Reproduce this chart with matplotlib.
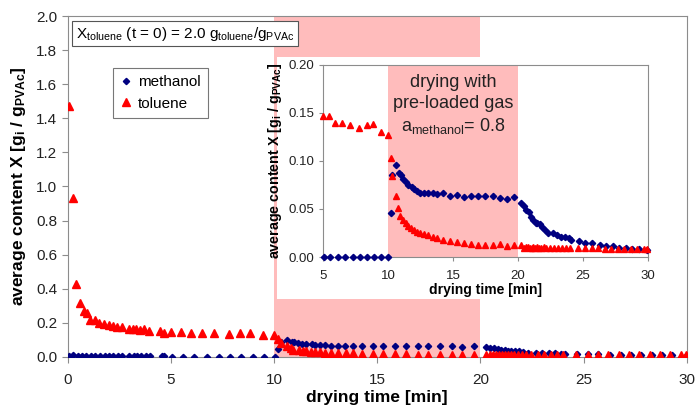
import numpy as np
import matplotlib.pyplot as plt
from matplotlib.patches import Rectangle

plt.rcParams['font.family'] = ['Liberation Sans', 'DejaVu Sans']
plt.rcParams['mathtext.default'] = 'regular'

# drying time [min] and loading [g_i / g_PVAc]
t_tol = [0.05, 0.25, 0.40, 0.60, 0.76, 0.92, 1.08, 1.33, 1.52, 1.76, 2.0, 2.2, 2.4, 2.6,
         2.95, 3.14, 3.3, 3.5, 3.67, 3.95, 4.48, 4.68, 5.0, 5.5, 5.95, 6.5, 7.1, 7.8,
         8.35, 8.85, 9.45, 10.0, 10.2, 10.35, 10.6, 10.8, 10.92, 11.18, 11.38, 11.56,
         11.77, 12.0, 12.2, 12.46, 12.77, 13.1, 13.5, 13.8, 14.26, 14.77, 15.28, 15.87,
         16.38, 16.95, 17.46, 18.05, 18.6, 19.13, 19.7, 20.28, 20.45, 20.6, 20.75, 20.9,
         21.05, 21.2, 21.35, 21.5, 21.65, 21.8, 22.0, 22.2, 22.47, 22.8, 23.1, 23.4,
         23.7, 24.0, 24.64, 25.2, 25.7, 26.2, 26.7, 27.2, 27.7, 28.2, 28.7, 29.2, 29.7, 29.97]
x_tol = [1.47, 0.93, 0.43, 0.315, 0.27, 0.256, 0.214, 0.214, 0.20, 0.194, 0.186, 0.18, 0.177, 0.175,
         0.163, 0.163, 0.161, 0.159, 0.161, 0.151, 0.151, 0.14, 0.147, 0.147, 0.14, 0.14, 0.137, 0.134,
         0.137, 0.138, 0.13, 0.127, 0.103, 0.084, 0.064, 0.051, 0.043, 0.0385, 0.035, 0.0326,
         0.0306, 0.028, 0.0264, 0.0253, 0.024, 0.0226, 0.0212, 0.020, 0.0174, 0.0163, 0.016, 0.015,
         0.014, 0.013, 0.0125, 0.012, 0.0135, 0.011, 0.0125, 0.0125, 0.0095, 0.010, 0.0105, 0.009,
         0.0095, 0.0105, 0.0095, 0.010, 0.0098, 0.0095, 0.010, 0.0098, 0.0097, 0.0098, 0.0095, 0.0098,
         0.0095, 0.0097, 0.0095, 0.009, 0.0095, 0.009, 0.0088, 0.0088, 0.0085, 0.0085, 0.0085, 0.008, 0.008, 0.0085]

t_met = [0.03, 0.23, 0.47, 0.68, 0.89, 1.12, 1.33, 1.57, 1.78, 1.99, 2.18, 2.41, 2.62, 2.98,
         3.19, 3.37, 3.54, 3.77, 4.0, 4.56, 4.68, 5.05, 5.57, 6.13, 6.72, 7.31, 7.88, 8.4,
         8.96, 9.5, 10.02, 10.2, 10.35, 10.6, 10.87, 10.97, 11.15, 11.36, 11.56, 11.82, 12.0,
         12.2, 12.46, 12.77, 13.1, 13.43, 13.8, 14.26, 14.77, 15.28, 15.87, 16.38, 16.95,
         17.46, 18.05, 18.6, 19.13, 19.7, 20.28, 20.46, 20.66, 20.84, 21.0, 21.18, 21.36,
         21.5, 21.7, 21.87, 22.07, 22.3, 22.7, 23.0, 23.3, 23.6, 23.9, 24.1, 24.7, 25.2,
         25.7, 26.3, 26.8, 27.3, 27.8, 28.3, 28.8, 29.3, 29.97]
x_met = [0.006, 0.01, 0.003, 0.002, 0.002, 0.002, 0.002, 0.002, 0.002, 0.002, 0.002, 0.002, 0.002, 0.002,
         0.002, 0.002, 0.002, 0.002, 0.002, 0.002, 0.002, 0.0, 0.0, 0.0, 0.0, 0.0, 0.0, 0.0,
         0.0, 0.0, 0.0, 0.046, 0.085, 0.096, 0.088, 0.085, 0.081, 0.078, 0.075, 0.073, 0.071,
         0.069, 0.067, 0.0663, 0.0663, 0.0663, 0.0653, 0.0663, 0.0635, 0.0644, 0.0628, 0.0633, 0.0633,
         0.0633, 0.0633, 0.0611, 0.0604, 0.0628, 0.056, 0.053, 0.049, 0.0465, 0.042, 0.0385, 0.0357,
         0.035, 0.034, 0.0316, 0.028, 0.0253, 0.0247, 0.023, 0.021, 0.0205, 0.0194, 0.0177, 0.017, 0.015,
         0.015, 0.0125, 0.0115, 0.011, 0.0098, 0.0092, 0.0088, 0.0085, 0.0073]

gas_on, gas_off = 10, 20   # pre-loaded gas period
t_zoom = 5                 # inset starts here
pink = '#ffbcbc'
grey = '#8c8c8c'

fig = plt.figure(figsize=(7, 4.13), dpi=100)
ax = fig.add_axes([0.097, 0.136, 0.884, 0.825])

ax.axvspan(gas_on, gas_off, color=pink, lw=0, zorder=0)
# white area behind the inset
ax.add_patch(Rectangle((0.338, 0.17), 0.662, 0.709, transform=ax.transAxes,
                       facecolor='white', edgecolor='none', zorder=0.5))

ax.plot(t_met, x_met, 'D', color='#000080', ms=3.2, label='methanol', zorder=3)
ax.plot(t_tol, x_tol, '^', color='#ff0000', ms=5.5, label='toluene', zorder=3)

ax.set_xlim(0, 30)
ax.set_ylim(0, 2.0)
ax.set_xticks(np.arange(0, 31, 5))
ax.set_yticks(np.arange(0, 2.01, 0.2))
ax.yaxis.set_major_formatter(plt.FormatStrFormatter('%.1f'))
for s in ax.spines.values():
    s.set_color(grey)
ax.tick_params(colors=grey, labelcolor='#222222', labelsize=11, length=4, direction='out')
ax.tick_params(axis='x', pad=8)
ax.set_xlabel('drying time [min]', fontsize=12.5, fontweight='bold', labelpad=2)
ax.set_ylabel('average content X [$g_i$ / $g_{PVAc}$]', fontsize=12.5, fontweight='bold', labelpad=6)

leg = ax.legend(loc='upper left', bbox_to_anchor=(0.073, 0.847), borderaxespad=0, fontsize=11,
                frameon=True, fancybox=False, edgecolor='#555555', handlelength=0.8,
                handletextpad=0.4, borderpad=0.45, labelspacing=0.5)
leg.get_frame().set_linewidth(0.8)

ax.text(0.013, 0.975, '$X_{toluene}$ (t = 0) = 2.0 $g_{toluene}/g_{PVAc}$', transform=ax.transAxes,
        fontsize=11, va='top', ha='left',
        bbox=dict(boxstyle='square,pad=0.25', facecolor='white', edgecolor='#555555', lw=0.8))

# inset, same data from t_zoom on
tm = np.array(t_met)
tt = np.array(t_tol)
km = tm >= t_zoom
kt = tt >= t_zoom
axi = fig.add_axes([0.4614, 0.3777, 0.464, 0.465])
axi.axvspan(gas_on, gas_off, color=pink, lw=0, zorder=0)
axi.plot(tm[km], np.array(x_met)[km], 'D', color='#000080', ms=3.2, zorder=3, clip_on=False)
axi.plot(tt[kt], np.array(x_tol)[kt], '^', color='#ff0000', ms=5, zorder=3, clip_on=False)
axi.set_xlim(t_zoom, 30)
axi.set_ylim(0, 0.2)
axi.set_xticks(np.arange(5, 31, 5))
axi.set_yticks(np.arange(0, 0.201, 0.05))
axi.yaxis.set_major_formatter(plt.FormatStrFormatter('%.2f'))
for s in axi.spines.values():
    s.set_color(grey)
axi.tick_params(colors=grey, labelcolor='#222222', labelsize=9.5, length=3, direction='out')
axi.tick_params(axis='x', pad=6)
axi.set_xlabel('drying time [min]', fontsize=10, fontweight='bold', labelpad=1)
axi.set_ylabel('average content X [$g_i$ / $g_{PVAc}$]', fontsize=10.3, fontweight='bold', labelpad=3)
axi.text((gas_on + gas_off) / 2, 0.191, 'drying with\npre-loaded gas\n$a_{methanol}$= 0.8',
         ha='center', va='top', fontsize=13, color='#222222', linespacing=1.3)

fig.savefig('out.png', dpi=100)
